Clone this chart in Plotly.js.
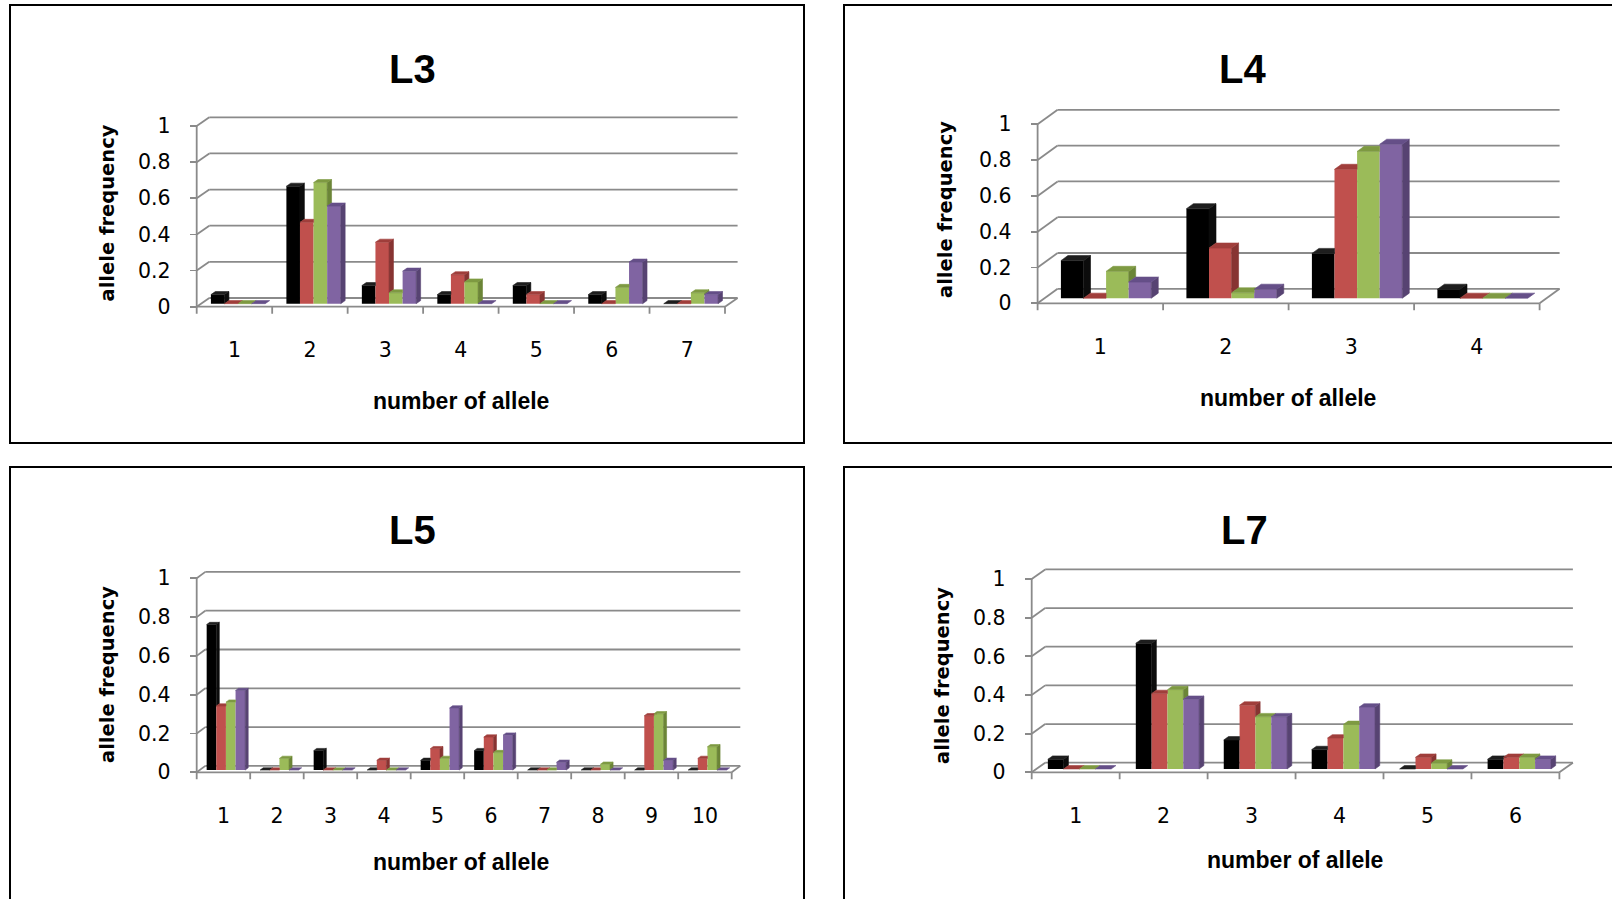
<!DOCTYPE html>
<html>
<head>
<meta charset="utf-8">
<script src="https://cdn.plot.ly/plotly-3.0.1.min.js"></script>
<style>
  html, body { margin: 0; padding: 0; background: #ffffff; }
  #chart { width: 1612px; height: 899px; }
</style>
</head>
<body>
<div id="chart"></div>
<script>
// ---- Allele frequencies per locus (four populations: black, red, green, purple) ----
const L3_alleles = ['1', '2', '3', '4', '5', '6', '7'];
const L3_black  = [0.05, 0.65, 0.10, 0.05, 0.10, 0.05, 0.00];
const L3_red    = [0.00, 0.45, 0.34, 0.16, 0.05, 0.00, 0.00];
const L3_green  = [0.00, 0.67, 0.06, 0.12, 0.00, 0.09, 0.06];
const L3_purple = [0.00, 0.54, 0.18, 0.00, 0.00, 0.23, 0.05];

const L4_alleles = ['1', '2', '3', '4'];
const L4_black  = [0.21, 0.50, 0.25, 0.05];
const L4_red    = [0.00, 0.28, 0.72, 0.00];
const L4_green  = [0.15, 0.03, 0.82, 0.00];
const L4_purple = [0.09, 0.05, 0.86, 0.00];

const L5_alleles = ['1', '2', '3', '4', '5', '6', '7', '8', '9', '10'];
const L5_black  = [0.75, 0.00, 0.10, 0.00, 0.05, 0.10, 0.00, 0.00, 0.00, 0.00];
const L5_red    = [0.33, 0.00, 0.00, 0.05, 0.11, 0.17, 0.00, 0.00, 0.28, 0.06];
const L5_green  = [0.35, 0.06, 0.00, 0.00, 0.06, 0.09, 0.00, 0.03, 0.29, 0.12];
const L5_purple = [0.41, 0.00, 0.00, 0.00, 0.32, 0.18, 0.04, 0.00, 0.05, 0.00];

const L7_alleles = ['1', '2', '3', '4', '5', '6'];
const L7_black  = [0.05, 0.65, 0.15, 0.10, 0.00, 0.05];
const L7_red    = [0.00, 0.39, 0.33, 0.16, 0.06, 0.06];
const L7_green  = [0.00, 0.41, 0.27, 0.23, 0.03, 0.06];
const L7_purple = [0.00, 0.36, 0.27, 0.32, 0.00, 0.05];

const yTickVals = [0, 0.2, 0.4, 0.6, 0.8, 1];
const yTickText = ['0', '0.2', '0.4', '0.6', '0.8', '1'];
const xTitleText = 'number of allele';
const yTitleText = 'allele frequency';

// ---- Styling ----
const W = 1612, H = 899;
const FRONT_COLORS = ['#000000', '#C0504D', '#9BBB59', '#8064A2'];
const TOP_COLORS   = ['#1e1e1e', '#A03E3B', '#7E9A42', '#654F88'];
const SIDE_COLORS  = ['#0c0c0c', '#873432', '#6B8537', '#574372'];
const GRID = '#8a8a8a';
const GRID_W = 1.8;
const TICK_FONT = { family: 'DejaVu Sans, Verdana, sans-serif', size: 20.5, color: '#000000' };
const TITLE_FONT = { family: 'Liberation Sans, Arial, sans-serif', size: 40, color: '#000000', weight: 700 };
const XTITLE_FONT = { family: 'Liberation Sans, Arial, sans-serif', size: 23, color: '#000000', weight: 700 };
const YTITLE_FONT = { family: 'DejaVu Sans, Verdana, sans-serif', size: 19.5, color: '#000000', weight: 700 };

// 3D column proportions (fractions of a category / of the floor depth)
const GAP0 = 0.13, BAR_W = 0.18, FRONT_AT = 0.35, BAR_DEPTH = 0.35;

// Panel frames in page pixels
const panels = [
  { title: 'L3', cats: L3_alleles, series: [L3_black, L3_red, L3_green, L3_purple],
    axisX: 196.7, frontRight: 725, zeroY: 306.7, oneY: 126, depthX: 12.6, depthY: 8.7,
    box: [10, 5, 804, 443], titleAt: [412, 69], xTitleAt: [460.6, 401], yTitleAt: [107, 213.5] },
  { title: 'L4', cats: L4_alleles, series: [L4_black, L4_red, L4_green, L4_purple],
    axisX: 1037.6, frontRight: 1539.6, zeroY: 303.3, oneY: 124.3, depthX: 20, depthY: 14.5,
    box: [844, 5, 1660, 443], titleAt: [1242, 69], xTitleAt: [1288, 398], yTitleAt: [945, 210] },
  { title: 'L5', cats: L5_alleles, series: [L5_black, L5_red, L5_green, L5_purple],
    axisX: 196.7, frontRight: 731.7, zeroY: 772.3, oneY: 578.3, depthX: 8.6, depthY: 6.4,
    box: [10, 467, 804, 960], titleAt: [412, 530], xTitleAt: [461, 862], yTitleAt: [107, 675] },
  { title: 'L7', cats: L7_alleles, series: [L7_black, L7_red, L7_green, L7_purple],
    axisX: 1031.7, frontRight: 1559.4, zeroY: 772.3, oneY: 579, depthX: 13.5, depthY: 9.6,
    box: [844, 467, 1660, 960], titleAt: [1244, 530], xTitleAt: [1295, 860], yTitleAt: [942, 676] }
];

// Clip a polygon against the half-plane where f(p) >= 0
function clipHalf(poly, f) {
  const out = [];
  for (let i = 0; i < poly.length; i++) {
    const a = poly[i], b = poly[(i + 1) % poly.length];
    const fa = f(a), fb = f(b);
    if (fa >= 0) out.push(a);
    if ((fa >= 0) !== (fb >= 0)) {
      const t = fa / (fa - fb);
      out.push([a[0] + t * (b[0] - a[0]), a[1] + t * (b[1] - a[1])]);
    }
  }
  return out;
}

function faceTrace(polys, color, xa, ya) {
  const xs = [], ys = [];
  polys.forEach((p, k) => {
    if (k > 0) { xs.push(null); ys.push(null); }
    p.forEach(q => { xs.push(q[0]); ys.push(q[1]); });
    xs.push(p[0][0]); ys.push(p[0][1]);
  });
  return {
    type: 'scatter', mode: 'lines', x: xs, y: ys, fill: 'toself',
    fillcolor: color, line: { color: color, width: 0.6 },
    xaxis: xa, yaxis: ya, hoverinfo: 'skip', showlegend: false
  };
}

const data = [];
const layout = {
  width: W, height: H, autosize: false,
  margin: { l: 0, r: 0, t: 0, b: 0, pad: 0 },
  paper_bgcolor: '#ffffff', plot_bgcolor: 'rgba(0,0,0,0)',
  showlegend: false, barmode: 'overlay',
  shapes: [], annotations: []
};

panels.forEach((p, i) => {
  const n = p.cats.length;
  const sfx = i === 0 ? '' : String(i + 1);
  const xa = 'x' + sfx, ya = 'y' + sfx;
  const catW = (p.frontRight - p.axisX) / n;
  const ppu = p.zeroY - p.oneY;
  const DXc = p.depthX / catW, DYv = p.depthY / ppu;

  const xr0 = 0.5 - 0.2, xr1 = n + 0.5 + DXc + 0.2;
  const yr0 = -0.08, yr1 = 1 + DYv + 0.06;
  const pxX = v => p.axisX + (v - 0.5) * catW;
  const pxY = v => p.zeroY - v * ppu;

  layout['xaxis' + sfx] = {
    domain: [pxX(xr0) / W, pxX(xr1) / W], range: [xr0, xr1],
    anchor: 'free', position: 1 - p.zeroY / H,
    tickmode: 'array', tickvals: p.cats.map((_, k) => k + 1), ticktext: p.cats,
    ticks: '', showgrid: false, zeroline: false, showline: false,
    tickfont: TICK_FONT, ticklabelstandoff: 29, fixedrange: true
  };
  layout['yaxis' + sfx] = {
    domain: [1 - pxY(yr0) / H, 1 - pxY(yr1) / H], range: [yr0, yr1],
    anchor: 'free', position: p.axisX / W, side: 'left',
    tickmode: 'array', tickvals: yTickVals, ticktext: yTickText,
    ticks: 'outside', ticklen: 7, tickwidth: GRID_W, tickcolor: GRID,
    showgrid: false, zeroline: false, showline: false,
    tickfont: TICK_FONT, ticklabelstandoff: 15, fixedrange: true
  };

  // Walls, floor and axis lines
  const line = (x0, y0, x1, y1) => layout.shapes.push({
    type: 'line', xref: xa, yref: ya, x0: x0, y0: y0, x1: x1, y1: y1,
    line: { color: GRID, width: GRID_W }, layer: 'below'
  });
  yTickVals.forEach(v => {
    line(0.5 + DXc, v + DYv, n + 0.5 + DXc, v + DYv);
    line(0.5, v, 0.5 + DXc, v + DYv);
  });
  line(0.5, 0, n + 0.5, 0);
  line(n + 0.5, 0, n + 0.5 + DXc, DYv);
  line(0.5, 0, 0.5, 1);
  for (let k = 0; k <= n; k++) line(k + 0.5, 0, k + 0.5, -7 / ppu);

  // Front faces of the columns
  const base = FRONT_AT * DYv;
  p.series.forEach((vals, s) => {
    data.push({
      type: 'bar', x: p.cats.map((_, k) => k + 1), y: vals, base: base,
      width: BAR_W, offset: -0.5 + GAP0 + s * BAR_W + FRONT_AT * DXc,
      marker: { color: FRONT_COLORS[s], line: { width: 0 } },
      xaxis: xa, yaxis: ya, hoverinfo: 'skip', showlegend: false
    });
  });

  // Side and top faces, painted left to right
  const ex = BAR_DEPTH * DXc, ey = BAR_DEPTH * DYv;
  for (let c = 0; c < n; c++) {
    for (let s = 0; s < p.series.length; s++) {
      const v = p.series[s][c];
      const xl = c + 1 - 0.5 + GAP0 + s * BAR_W + FRONT_AT * DXc;
      const xr = xl + BAR_W;
      const t = base + v;
      const hasNext = s < p.series.length - 1;
      const h = hasNext ? base + p.series[s + 1][c] : base;
      const lo = hasNext ? Math.max(base, h) : base;
      if (t > lo + 1e-9) {
        data.push(faceTrace([[[xr, lo], [xr, t], [xr + ex, t + ey], [xr + ex, lo + ey]]], SIDE_COLORS[s], xa, ya));
      }
      const top = [[xl, t], [xr, t], [xr + ex, t + ey], [xl + ex, t + ey]];
      let polys = [top];
      if (hasNext && h > t) {
        const left = clipHalf(top, q => xr - q[0]);
        const right = clipHalf(clipHalf(top, q => q[0] - xr), q => q[1] - h);
        polys = [left, right].filter(q => q.length >= 3);
      }
      if (polys.length) data.push(faceTrace(polys, TOP_COLORS[s], xa, ya));
    }
  }

  // Frame and texts
  layout.shapes.push({
    type: 'rect', xref: 'paper', yref: 'paper',
    x0: p.box[0] / W, x1: p.box[2] / W, y0: 1 - p.box[3] / H, y1: 1 - p.box[1] / H,
    line: { color: '#000000', width: 2 }, fillcolor: 'rgba(0,0,0,0)', layer: 'below'
  });
  layout.annotations.push({
    xref: 'paper', yref: 'paper', x: p.titleAt[0] / W, y: 1 - p.titleAt[1] / H,
    xanchor: 'center', yanchor: 'middle', showarrow: false, text: p.title, font: TITLE_FONT
  });
  layout.annotations.push({
    xref: 'paper', yref: 'paper', x: p.xTitleAt[0] / W, y: 1 - p.xTitleAt[1] / H,
    xanchor: 'center', yanchor: 'middle', showarrow: false, text: xTitleText, font: XTITLE_FONT
  });
  layout.annotations.push({
    xref: 'paper', yref: 'paper', x: p.yTitleAt[0] / W, y: 1 - p.yTitleAt[1] / H,
    xanchor: 'center', yanchor: 'middle', showarrow: false, textangle: -90,
    text: yTitleText, font: YTITLE_FONT
  });
});

Plotly.newPlot('chart', data, layout, { displayModeBar: false, staticPlot: true });
</script>
</body>
</html>
